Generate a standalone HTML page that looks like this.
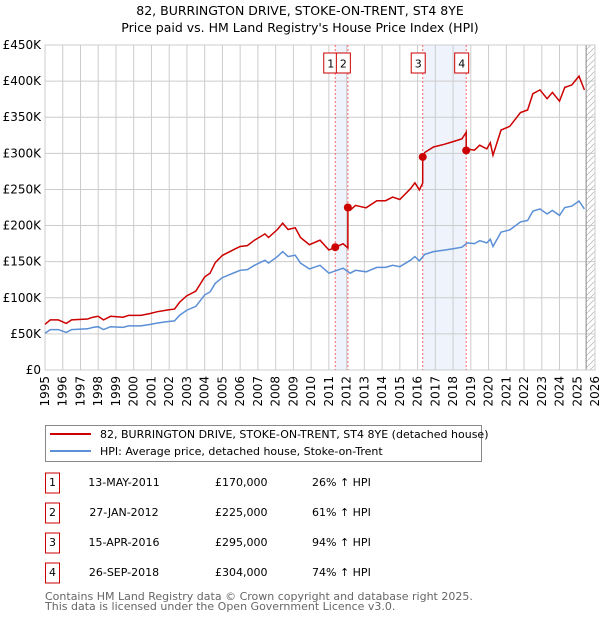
<!DOCTYPE html>
<html><head><meta charset="utf-8"><style>
body{margin:0;background:#fff;font-family:"DejaVu Sans","Liberation Sans",sans-serif;}
#wrap{position:relative;width:600px;height:620px;overflow:hidden}
svg text{font-family:"DejaVu Sans","Liberation Sans",sans-serif}
</style></head><body><div id="wrap">
<svg id="chart" width="600" height="620"></svg>
</div>
<script>
const hpiYears=[1995.0,1995.3,1995.75,1996.2,1996.5,1997.4,1997.7,1998.0,1998.3,1998.7,1999.4,1999.7,2000.4,2000.9,2001.3,2001.9,2002.3,2002.6,2003.0,2003.5,2004.0,2004.3,2004.6,2005.0,2005.7,2006.0,2006.4,2006.8,2007.4,2007.6,2008.1,2008.4,2008.7,2009.1,2009.4,2009.9,2010.5,2011.0,2011.8,2012.2,2012.5,2013.1,2013.7,2014.2,2014.6,2015.0,2015.6,2015.85,2016.1,2016.4,2016.9,2017.5,2018.0,2018.5,2018.8,2019.2,2019.5,2019.9,2020.1,2020.25,2020.7,2021.2,2021.8,2022.2,2022.5,2022.9,2023.3,2023.6,2024.0,2024.3,2024.7,2025.1,2025.4];
const hpiValues=[51,56,56,52,56,57,59,60,56,60,59,61,61,63,65,67,68,76,83,88,104,108,120,128,135,138,139,145,152,148,157,164,157,159,148,140,145,134,141,134,138,136,142,142,145,143,152,157,151,160,164,166,168,170,176,175,179,176,181,171,191,194,205,207,220,223,216,221,214,225,227,234,223];
const saleLabels=["1","2","3","4"];
const saleYears=[2011.36,2012.07,2016.29,2018.74];
const salePrices=[170000,225000,295000,304000];
const saleDates=["13-MAY-2011","27-JAN-2012","15-APR-2016","26-SEP-2018"];
const salePriceText=["£170,000","£225,000","£295,000","£304,000"];
const saleHpiText=["26% ↑ HPI","61% ↑ HPI","94% ↑ HPI","74% ↑ HPI"];
const yTicks=[0,50000,100000,150000,200000,250000,300000,350000,400000,450000];
const yTickLabels=["£0","£50K","£100K","£150K","£200K","£250K","£300K","£350K","£400K","£450K"];
const xTicks=[1995,1996,1997,1998,1999,2000,2001,2002,2003,2004,2005,2006,2007,2008,2009,2010,2011,2012,2013,2014,2015,2016,2017,2018,2019,2020,2021,2022,2023,2024,2025,2026];

const NS="http://www.w3.org/2000/svg";
const svg=document.getElementById('chart');
const L=45,R=595,T=45,B=370;
const X=y=>L+(y-1995)/(2026-1995)*(R-L);
const Y=v=>B-v/450000*(B-T);
function mk(tag,attrs,parent){const e=document.createElementNS(NS,tag);for(const k in attrs)e.setAttribute(k,attrs[k]);(parent||svg).appendChild(e);return e;}
function hpiAt(t){for(let i=0;i<hpiYears.length-1;i++){if(t>=hpiYears[i]&&t<=hpiYears[i+1]){const f=(t-hpiYears[i])/(hpiYears[i+1]-hpiYears[i]);return (hpiValues[i]+f*(hpiValues[i+1]-hpiValues[i]))*1000;}}return hpiValues[hpiValues.length-1]*1000;}

// title
let t=mk('text',{x:300,y:15,'text-anchor':'middle','font-size':12.5,fill:'#000'});t.textContent="82, BURRINGTON DRIVE, STOKE-ON-TRENT, ST4 8YE";

t=mk('text',{x:300,y:32,'text-anchor':'middle','font-size':12.5,fill:'#000'});t.textContent="Price paid vs. HM Land Registry's House Price Index (HPI)";


// shaded spans
[[0,1],[2,3]].forEach(p=>{const r=mk('rect',{x:X(saleYears[p[0]]),y:T,width:X(saleYears[p[1]])-X(saleYears[p[0]]),height:B-T,fill:'#eef3fc'});
});

// grid
xTicks.forEach(y=>{const l=mk('line',{x1:X(y),x2:X(y),y1:T,y2:B,stroke:'#cccccc','stroke-width':1});});
yTicks.forEach((v,i)=>{const l=mk('line',{x1:L,x2:R,y1:Y(v),y2:Y(v),stroke:'#cccccc','stroke-width':1});
const tx=mk('text',{x:L-4,y:Y(v)+4,'text-anchor':'end','font-size':12,fill:'#000'});tx.textContent=yTickLabels[i];});
xTicks.forEach(y=>{const tx=mk('text',{x:0,y:0,'text-anchor':'end','font-size':12,fill:'#000',transform:`translate(${X(y)+4},${B+6}) rotate(-90)`});tx.textContent=y;});

// hatch future
const defs=mk('defs',{});const pat=mk('pattern',{id:'hatch',width:6,height:6,patternUnits:'userSpaceOnUse'},defs);
mk('path',{d:'M0,6 L6,0',stroke:'#bbbbbb','stroke-width':0.8},pat);
const hx=X(2025.5);
let hr=mk('rect',{x:hx,y:T,width:R-hx,height:B-T,fill:'url(#hatch)'});
let hl=mk('line',{x1:hx,x2:hx,y1:T,y2:B,stroke:'#888','stroke-width':1});
let fr=mk('rect',{x:L,y:T,width:R-L,height:B-T,fill:'none',stroke:'#cccccc'});

// sale vlines
saleYears.forEach(s=>{const l=mk('line',{x1:X(s),x2:X(s),y1:T,y2:B,stroke:'#ff6666','stroke-width':1,'stroke-dasharray':'2,2'});});

// HPI line
let d=hpiYears.map((y,i)=>(i?'L':'M')+X(y).toFixed(1)+','+Y(hpiValues[i]*1000).toFixed(1)).join(' ');
let hp=mk('path',{d:d,fill:'none',stroke:'#5b8fd6','stroke-width':1.5});

// red property line
const ratios=saleYears.map((s,i)=>salePrices[i]/hpiAt(s));
function ratioAt(tm){let r=ratios[0];for(let i=0;i<saleYears.length;i++)if(tm>=saleYears[i])r=ratios[i];return r;}
let pts=[];const times=hpiYears.concat(saleYears).sort((a,b)=>a-b);
times.forEach(tm=>{if(saleYears.includes(tm)){const i=saleYears.indexOf(tm);const prev=i?ratios[i-1]:ratios[0];pts.push([tm,hpiAt(tm)*prev]);pts.push([tm,salePrices[i]]);}else pts.push([tm,hpiAt(tm)*ratioAt(tm)]);});
d=pts.map((p,i)=>(i?'L':'M')+X(p[0]).toFixed(1)+','+Y(p[1]).toFixed(1)).join(' ');
let rp=mk('path',{d:d,fill:'none',stroke:'#cc0000','stroke-width':1.5});

saleYears.forEach((s,i)=>{const c=mk('circle',{cx:X(s),cy:Y(salePrices[i]),r:4,fill:'#cc0000'});
const bx=X(s)-4.5-7;const b=mk('rect',{x:bx,y:53,width:14,height:20,fill:'#fff',stroke:'#cc0000'});
const tx=mk('text',{x:bx+7,y:67.5,'text-anchor':'middle','font-size':11,fill:'#000'});tx.textContent=saleLabels[i];});

// legend
let lg=mk('rect',{x:45.5,y:425.5,width:436,height:36,fill:'#fff',stroke:'#888'});
let ll=mk('line',{x1:50,x2:91,y1:434,y2:434,stroke:'#cc0000','stroke-width':2});
t=mk('text',{x:100,y:438,'font-size':11,fill:'#000'});t.textContent="82, BURRINGTON DRIVE, STOKE-ON-TRENT, ST4 8YE (detached house)";
ll=mk('line',{x1:50,x2:91,y1:451,y2:451,stroke:'#5b8fd6','stroke-width':2});
t=mk('text',{x:100,y:455,'font-size':11,fill:'#000'});t.textContent="HPI: Average price, detached house, Stoke-on-Trent";

// table
saleLabels.forEach((lab,i)=>{const cy=483+i*30;
const b=mk('rect',{x:45.5,y:cy-10,width:14,height:20,fill:'#fff',stroke:'#cc0000'});
let tx=mk('text',{x:52.5,y:cy+3,'text-anchor':'middle','font-size':11,fill:'#000'});tx.textContent=lab;
tx=mk('text',{x:124,y:cy+3,'text-anchor':'middle','font-size':11,fill:'#000'});tx.textContent=saleDates[i];
tx=mk('text',{x:215,y:cy+3,'font-size':11,fill:'#000'});tx.textContent=salePriceText[i];
tx=mk('text',{x:312,y:cy+3,'font-size':11,fill:'#000'});tx.textContent=saleHpiText[i];});

t=mk('text',{x:45,y:600,'font-size':11,fill:'#666'});t.textContent="Contains HM Land Registry data © Crown copyright and database right 2025.";
t=mk('text',{x:45,y:610,'font-size':11,fill:'#666'});t.textContent="This data is licensed under the Open Government Licence v3.0.";
</script></body></html>
